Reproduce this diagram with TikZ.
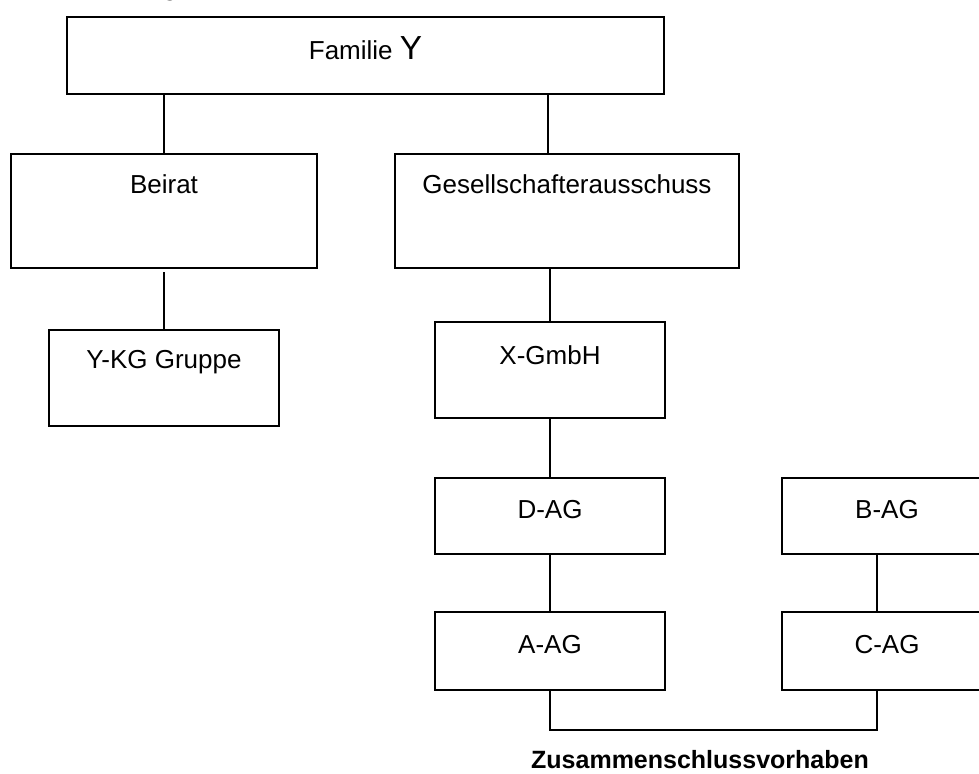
\documentclass[tikz,border=0pt]{standalone}
\usepackage{fontspec}
\setmainfont{Liberation Sans}
\usetikzlibrary{calc}
\begin{document}
\begin{tikzpicture}[x=0.75pt,y=-0.75pt,
  box/.style 2 args={draw, line width=1.5pt, inner sep=0pt, outer sep=0pt,
    minimum width=#1*0.75pt, minimum height=#2*0.75pt, anchor=north west},
  lbl/.style={anchor=base, inner sep=0pt, font=\fontsize{19.5}{22}\selectfont},
  conn/.style={line width=1.5pt}]
\useasboundingbox (0,0) rectangle (979,774);
\clip (0,0) rectangle (979,774);

% cut-off title fragment
\node[lbl] (title) at (170,-4.5) {g};

% boxes
\node[box={597}{77}]  (fam)    at (67,17)  {};
\node[box={306}{114}] (beirat) at (11,154) {};
\node[box={344}{114}] (ges)    at (395,154) {};
\node[box={230}{96}]  (ykg)    at (49,330) {};
\node[box={230}{96}]  (xg)     at (435,322) {};
\node[box={230}{76}]  (dag)    at (435,478) {};
\node[box={230}{78}]  (aag)    at (435,612) {};
\node[box={210}{76}]  (bag)    at (782,478) {};
\node[box={210}{78}]  (cag)    at (782,612) {};

% labels
\node[lbl] (famT) at ($(fam.north)+(0,43)$) {Familie {\fontsize{25}{28}\selectfont Y}};
\node[lbl] (beiratT) at ($(beirat.north)+(0,39)$) {Beirat};
\node[lbl] (gesT) at ($(ges.north)+(0,39)$) {Gesellschafterausschuss};
\node[lbl] (ykgT) at ($(ykg.north)+(0,38)$) {Y-KG Gruppe};
\node[lbl] (xgT) at ($(xg.north)+(0,42)$) {X-GmbH};
\node[lbl] (dagT) at ($(dag.north)+(0,40)$) {D-AG};
\node[lbl] (aagT) at ($(aag.north)+(0,41)$) {A-AG};
\node[lbl] (bagT) at ($(bag.north)+(0,40)$) {B-AG};
\node[lbl] (cagT) at ($(cag.north)+(0,41)$) {C-AG};
\node[lbl, font=\bfseries\fontsize{18.75}{22}\selectfont] (zus) at (700,768) {Zusammenschlussvorhaben};

% connector anchor points
\coordinate (gesTop) at ($(ges.north west)+(153,0)$);
\coordinate (bagBot) at ($(bag.south west)+(95,0)$);
\coordinate (cagTop) at ($(cag.north west)+(95,0)$);
\coordinate (cagBot) at ($(cag.south west)+(95,0)$);
\coordinate (jl) at ($(aag.south)+(0,40)$);

% connectors
\draw[conn] (beirat.north) -- (beirat.north |- fam.south);
\draw[conn] (gesTop) -- (gesTop |- fam.south);
\draw[conn] (ykg.north) -- ($(ykg.north |- beirat.south)+(0,4)$);
\draw[conn] (xg.north) -- (xg.north |- ges.south);
\draw[conn] (dag.north) -- (dag.north |- xg.south);
\draw[conn] (aag.north) -- (dag.south);
\draw[conn] (bagBot) -- (cagTop);
\draw[conn] (aag.south) -- (jl) -- (jl -| cagBot) -- (cagBot);
\end{tikzpicture}
\end{document}
